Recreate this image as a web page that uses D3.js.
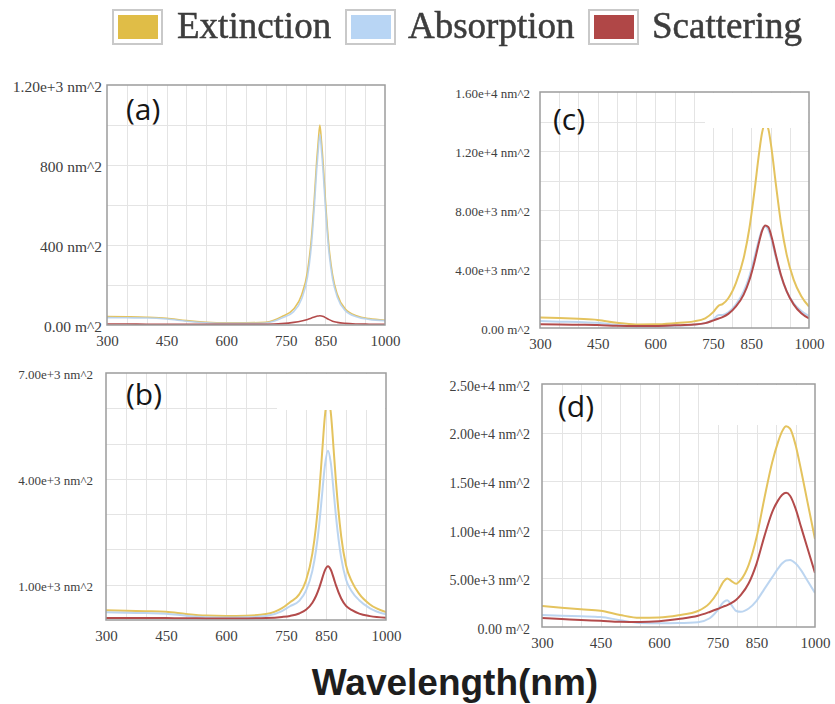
<!DOCTYPE html>
<html>
<head>
<meta charset="utf-8">
<script src="https://cdn.jsdelivr.net/npm/d3@7"></script>
<style>
  html, body { margin: 0; padding: 0; background: #fff; }
  svg { display: block; }
</style>
</head>
<body>
<svg id="chart" width="835" height="704"></svg>
<script>
// ---- Cross-section spectra (nm^2) for four particles, wavelength in nm ----
const seriesNames = ["Extinction", "Absorption", "Scattering"];

const xTicks = [300, 450, 600, 750, 850, 1000];

// (a)
const wavelengthA = [300,350,400,450,500,550,600,650,700,720,740,770,790,805,815,822,828,832,836,840,845,850,858,868,880,900,930,960,1000];
const extinctionA = [42,41,39,34,22,14,11,11,14,24,42,80,150,270,440,630,820,920,1000,920,785,625,410,250,152,80,45,32,24];
const absorptionA = [37,36,35,30,19,11,8,8,10,19,35,67,130,242,405,590,776,875,954,875,743,588,382,231,139,72,40,28,21];
const scatteringA = [5,5,4,4,3,3,3,3,4,5,7,13,20,28,35,40,44,45,46,45,42,37,28,19,13,8,5,4,3];
const yTicksA = [0, 400, 800, 1200];
const yLabelsA = ["0.00 m^2", "400 nm^2", "800 nm^2", "1.20e+3 nm^2"];

// (b)
const wavelengthB = [300,350,400,450,500,550,600,650,700,740,760,783,800,816,825,833,840,847,855,862,870,875,888,900,915,933,960,1000];
const extinctionB = [277,261,250,234,170,125,114,123,167,335,505,725,1120,1890,2650,3610,4690,5750,6320,5875,4690,3910,2370,1550,1080,740,440,225];
const absorptionB = [220,205,195,180,120,80,72,78,112,250,390,540,830,1400,1970,2700,3530,4350,4800,4450,3530,2930,1760,1150,800,560,330,160];
const scatteringB = [57,56,55,54,50,45,42,45,55,85,115,185,290,490,680,910,1160,1400,1520,1425,1160,980,610,400,280,180,110,65];
const yTicksB = [1000, 4000, 7000];
const yLabelsB = ["1.00e+3 nm^2", "4.00e+3 nm^2", "7.00e+3 nm^2"];

// (c)
const wavelengthC = [300,350,400,450,500,550,600,650,700,730,750,765,775,790,810,830,845,858,870,878,886,894,902,914,927,942,960,980,1000];
const extinctionC = [720,670,620,550,350,240,250,330,450,660,1060,1520,1620,2020,3060,4740,6780,9260,11840,13250,13850,13510,12260,9700,7120,4960,3280,2150,1450];
const absorptionC = [470,430,400,350,200,110,110,150,220,330,560,880,880,1060,1600,2480,3530,4780,6020,6660,6900,6660,6020,4780,3530,2480,1680,1150,800];
const scatteringC = [250,240,220,200,150,130,140,180,230,330,500,640,740,960,1460,2260,3250,4480,5820,6590,6950,6850,6240,4920,3590,2480,1600,1000,650];
const yTicksC = [0, 4000, 8000, 12000, 16000];
const yLabelsC = ["0.00 m^2", "4.00e+3 nm^2", "8.00e+3 nm^2", "1.20e+4 nm^2", "1.60e+4 nm^2"];

// (d)
const wavelengthD = [300,350,400,450,500,550,600,650,700,730,750,765,775,785,798,810,830,850,870,890,905,916,926,936,950,965,980,1000];
const extinctionD = [2160,1980,1820,1670,1240,940,980,1220,1650,2450,3550,4650,5000,4750,4450,4860,6400,9200,13200,16900,19000,20150,20650,20400,18750,16000,13000,9050];
const absorptionD = [1230,1150,1100,1030,700,420,380,400,500,900,1700,2550,2750,2300,1650,1560,1900,2700,3900,5100,6000,6550,6850,6900,6550,5800,4800,3500];
const scatteringD = [930,830,720,640,540,520,600,820,1150,1550,1850,2100,2250,2450,2800,3300,4500,6500,9300,11800,13000,13600,13800,13500,12200,10200,8200,5550];
const yTicksD = [0, 5000, 10000, 15000, 20000, 25000];
const yLabelsD = ["0.00 m^2", "5.00e+3 nm^2", "1.00e+4 nm^2", "1.50e+4 nm^2", "2.00e+4 nm^2", "2.50e+4 nm^2"];

// ---- styling ----
const lineColors = ["#e4c35e", "#b5d0ee", "#b34b4b"];
const legendFills = ["#e0bd47", "#b8d5f4", "#b04646"];
const serif = "'Liberation Serif', 'Times New Roman', serif";

const panels = [
  { tag: "(a)", wl: wavelengthA, series: [extinctionA, absorptionA, scatteringA], yTicks: yTicksA, yLabels: yLabelsA,
    yMax: 1200, yGrid: 200, box: { l: 107, t: 85, r: 385, b: 325 }, fs: 15.5, gap: 5, lw: 1.6,
    tagPos: [126, 120], patch: null },
  { tag: "(b)", wl: wavelengthB, series: [extinctionB, absorptionB, scatteringB], yTicks: yTicksB, yLabels: yLabelsB,
    yMax: 7000, yGrid: 1000, box: { l: 106, t: 373, r: 386, b: 620 }, fs: 13, gap: 13, lw: 2,
    tagPos: [126, 405], patch: { l: 277, t: 374, r: 385, b: 410 } },
  { tag: "(c)", wl: wavelengthC, series: [extinctionC, absorptionC, scatteringC], yTicks: yTicksC, yLabels: yLabelsC,
    yMax: 16000, yGrid: 2000, box: { l: 540, t: 92, r: 809, b: 328 }, fs: 13, gap: 10, lw: 2,
    tagPos: [553, 130], patch: { l: 705, t: 93, r: 808, b: 128 } },
  { tag: "(d)", wl: wavelengthD, series: [extinctionD, absorptionD, scatteringD], yTicks: yTicksD, yLabels: yLabelsD,
    yMax: 25000, yGrid: 5000, box: { l: 542, t: 384, r: 815, b: 627 }, fs: 14, gap: 12, lw: 2,
    tagPos: [558, 417], patch: { l: 715, t: 385, r: 814, b: 425 } }
];

const svg = d3.select("#chart");
const defs = svg.append("defs");
defs.append("filter").attr("id", "soft")
  .attr("x", "-5%").attr("y", "-20%").attr("width", "110%").attr("height", "140%")
  .append("feGaussianBlur").attr("stdDeviation", 0.7);

panels.forEach((p, pi) => {
  const { l, t, r, b } = p.box;
  const x = d3.scaleLinear().domain([300, 1000]).range([l, r]);
  const y = d3.scaleLinear().domain([0, p.yMax]).range([b, t]);
  const g = svg.append("g");

  // grid
  const grid = g.append("g").attr("stroke", "#e4e4e4").attr("stroke-width", 1);
  grid.selectAll("line.v").data(d3.range(350, 1000, 50)).join("line")
    .attr("x1", d => Math.round(x(d)) + 0.5).attr("x2", d => Math.round(x(d)) + 0.5)
    .attr("y1", t).attr("y2", b);
  grid.selectAll("line.h").data(d3.range(p.yGrid, p.yMax, p.yGrid)).join("line")
    .attr("x1", l).attr("x2", r)
    .attr("y1", d => Math.round(y(d)) + 0.5).attr("y2", d => Math.round(y(d)) + 0.5);

  // curves
  const clipId = "clip" + pi;
  defs.append("clipPath").attr("id", clipId)
    .append("rect").attr("x", l).attr("y", t).attr("width", r - l).attr("height", b - t);
  const line = d3.line().x(d => x(d[0])).y(d => y(d[1])).curve(d3.curveMonotoneX);
  const curves = g.append("g").attr("clip-path", `url(#${clipId})`);
  p.series.forEach((vals, si) => {
    curves.append("path")
      .datum(p.wl.map((w, i) => [w, vals[i]]))
      .attr("d", line)
      .attr("fill", "none")
      .attr("stroke", lineColors[si])
      .attr("stroke-width", p.lw)
      .attr("stroke-opacity", si === 1 ? 0.9 : 1)
      .attr("stroke-linejoin", "round");
  });

  // blank area in the upper right of the plot
  if (p.patch) {
    g.append("rect").attr("x", p.patch.l).attr("y", p.patch.t)
      .attr("width", p.patch.r - p.patch.l).attr("height", p.patch.b - p.patch.t)
      .attr("fill", "#fff");
  }

  // frame
  g.append("rect").attr("x", l).attr("y", t).attr("width", r - l).attr("height", b - t)
    .attr("fill", "none").attr("stroke", "#9c9c9c").attr("stroke-width", 1.5);

  // y axis labels
  const yAxis = g.append("g").attr("transform", `translate(${l},0)`)
    .call(d3.axisLeft(y).tickValues(p.yTicks).tickFormat((d, i) => p.yLabels[i]).tickSize(0).tickPadding(p.gap));
  yAxis.select(".domain").remove();
  yAxis.selectAll("text").attr("dy", "0.45em")
    .style("font-family", serif).style("font-size", p.fs + "px").attr("fill", "#404040");

  // x axis labels
  const xAxis = g.append("g").attr("transform", `translate(0,${b})`)
    .call(d3.axisBottom(x).tickValues(xTicks).tickFormat(d3.format("d")).tickSize(0).tickPadding(10));
  xAxis.select(".domain").remove();
  xAxis.selectAll("text")
    .style("font-family", serif).style("font-size", "15px").attr("fill", "#404040");

  // panel tag
  g.append("text").attr("x", p.tagPos[0]).attr("y", p.tagPos[1])
    .text(p.tag)
    .style("font-family", "'Open Sans', 'Noto Sans', sans-serif").style("font-size", "30px")
    .attr("fill", "#151515");
});

// legend
const legendX = [112, 345, 588];
const legendTextX = [177, 408, 652];
const legend = svg.append("g").attr("filter", "url(#soft)");
seriesNames.forEach((name, i) => {
  legend.append("rect").attr("x", legendX[i] + 1).attr("y", 10).attr("width", 49).attr("height", 34)
    .attr("fill", "#fff").attr("stroke", "#c9c9c9").attr("stroke-width", 2);
  legend.append("rect").attr("x", legendX[i] + 6).attr("y", 15).attr("width", 40).attr("height", 24)
    .attr("fill", legendFills[i]);
  legend.append("text").attr("x", legendTextX[i]).attr("y", 38).text(name)
    .style("font-family", serif).style("font-size", "37px")
    .attr("fill", "#3c3c3c").attr("stroke", "#3c3c3c").attr("stroke-width", 0.5);
});

// shared x-axis title
svg.append("text").attr("x", 455).attr("y", 695).attr("text-anchor", "middle")
  .text("Wavelength(nm)")
  .style("font-family", "'Liberation Sans', Arial, sans-serif").style("font-size", "37px")
  .style("font-weight", "bold").attr("fill", "#1e1e1e");
</script>
</body>
</html>
